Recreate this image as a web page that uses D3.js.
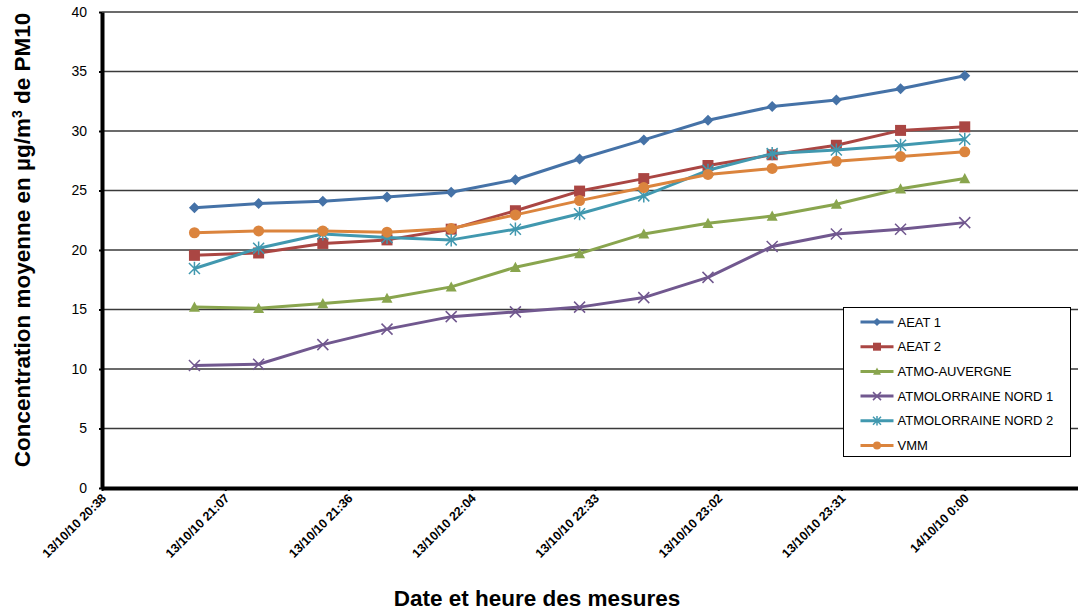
<!DOCTYPE html>
<html>
<head>
<meta charset="utf-8">
<script src="https://cdn.jsdelivr.net/npm/d3@7"></script>
<style>
    body { margin: 0; background: #fff; }
    svg { display: block; font-family: Arial, "Liberation Sans", sans-serif; }
</style>
</head>
<body>
<svg id="chart" width="1078" height="614"></svg>
<script>
// Measurement times (every 15 min)
const times = [
    '2010-10-13 21:00', '2010-10-13 21:15', '2010-10-13 21:30', '2010-10-13 21:45',
    '2010-10-13 22:00', '2010-10-13 22:15', '2010-10-13 22:30', '2010-10-13 22:45',
    '2010-10-13 23:00', '2010-10-13 23:15', '2010-10-13 23:30', '2010-10-13 23:45',
    '2010-10-14 00:00',
];

// Excel-style axis: steps of 0.02 day
const xDomain = ['2010-10-13 20:38:24', '2010-10-14 00:28:48'];
const tickTimes = [
    '2010-10-13 20:38:24', '2010-10-13 21:07:12', '2010-10-13 21:36:00', '2010-10-13 22:04:48',
    '2010-10-13 22:33:36', '2010-10-13 23:02:24', '2010-10-13 23:31:12', '2010-10-14 00:00:00',
];
const tickLabels = [
    '13/10/10 20:38', '13/10/10 21:07', '13/10/10 21:36', '13/10/10 22:04',
    '13/10/10 22:33', '13/10/10 23:02', '13/10/10 23:31', '14/10/10 0:00',
];
const yTicks = [0, 5, 10, 15, 20, 25, 30, 35, 40];

const seriesNames = ['AEAT 1', 'AEAT 2', 'ATMO-AUVERGNE', 'ATMOLORRAINE NORD 1', 'ATMOLORRAINE NORD 2', 'VMM'];
const aeat1   = [23.55, 23.9, 24.1, 24.45, 24.85, 25.9, 27.65, 29.25, 30.9, 32.05, 32.6, 33.55, 34.65];
const aeat2   = [19.55, 19.75, 20.55, 20.85, 21.75, 23.3, 24.95, 26.0, 27.1, 28.0, 28.8, 30.05, 30.35];
const auvergne = [15.2, 15.1, 15.5, 15.95, 16.9, 18.55, 19.7, 21.35, 22.25, 22.85, 23.85, 25.15, 26.0];
const nord1   = [10.3, 10.4, 12.05, 13.35, 14.4, 14.8, 15.2, 16.0, 17.7, 20.3, 21.35, 21.75, 22.3];
const nord2   = [18.45, 20.15, 21.35, 21.05, 20.85, 21.75, 23.05, 24.55, 26.7, 28.1, 28.4, 28.8, 29.3];
const vmm     = [21.45, 21.6, 21.6, 21.5, 21.8, 22.95, 24.15, 25.25, 26.35, 26.85, 27.45, 27.85, 28.25];

const seriesValues = [aeat1, aeat2, auvergne, nord1, nord2, vmm];
const seriesColors = ['#4572A7', '#AA4643', '#89A54E', '#71588F', '#4198AF', '#DB843D'];
const seriesMarkers = ['diamond', 'square', 'triangle', 'times', 'asterisk', 'circle'];

// marker shapes, r = half size
function markerPath(type, r) {
    const p = d3.path();
    if (type === 'diamond') {
        p.moveTo(0, -r); p.lineTo(r, 0); p.lineTo(0, r); p.lineTo(-r, 0); p.closePath();
    } else if (type === 'square') {
        p.rect(-r, -r, 2 * r, 2 * r);
    } else if (type === 'triangle') {
        p.moveTo(0, -r); p.lineTo(r, r * 0.85); p.lineTo(-r, r * 0.85); p.closePath();
    } else if (type === 'circle') {
        p.arc(0, 0, r, 0, 2 * Math.PI);
    } else if (type === 'times') {
        p.moveTo(-r, -r); p.lineTo(r, r); p.moveTo(r, -r); p.lineTo(-r, r);
    } else if (type === 'asterisk') {
        p.moveTo(-r, -r); p.lineTo(r, r); p.moveTo(r, -r); p.lineTo(-r, r);
        p.moveTo(0, -r * 1.2); p.lineTo(0, r * 1.2);
    }
    return p.toString();
}
const isStroked = t => t === 'times' || t === 'asterisk';

function drawMarker(sel, type, color, r) {
    sel.attr('d', markerPath(type, r))
        .attr('fill', isStroked(type) ? 'none' : color)
        .attr('stroke', isStroked(type) ? color : 'none')
        .attr('stroke-width', isStroked(type) ? 1.5 : 0);
}

const svg = d3.select('#chart');
const parse = d3.timeParse('%Y-%m-%d %H:%M');
const parseS = d3.timeParse('%Y-%m-%d %H:%M:%S');

const x = d3.scaleTime().domain(xDomain.map(parseS)).range([102, 1088]);
const y = d3.scaleLinear().domain([0, 40]).range([488, 12]);

// gridlines
svg.append('g')
    .selectAll('line')
    .data(yTicks.filter(d => d > 0))
    .join('line')
    .attr('x1', x.range()[0]).attr('x2', x.range()[1])
    .attr('y1', d => y(d)).attr('y2', d => y(d))
    .attr('stroke', '#3a3a3a').attr('stroke-width', 1.3);

// y axis
const yAxis = svg.append('g')
    .attr('transform', `translate(${x.range()[0]},0)`)
    .call(d3.axisLeft(y).tickValues(yTicks).tickSize(3).tickSizeOuter(0).tickPadding(12));
yAxis.select('.domain').attr('stroke', '#000').attr('stroke-width', 4);
yAxis.selectAll('.tick line').attr('stroke', '#000').attr('stroke-width', 2);
yAxis.selectAll('.tick text')
    .attr('font-size', '14px').attr('fill', '#000')
    .attr('font-family', 'Arial, "Liberation Sans", sans-serif');

// x axis
const xAxis = svg.append('g')
    .attr('transform', `translate(0,${y(0)})`)
    .call(d3.axisBottom(x).tickValues(tickTimes.map(parseS)).tickSize(3).tickSizeOuter(0).tickFormat(''));
xAxis.select('.domain').attr('stroke', '#000').attr('stroke-width', 4);
xAxis.selectAll('.tick line').attr('stroke', '#000').attr('stroke-width', 2);

svg.append('g')
    .selectAll('text')
    .data(tickTimes)
    .join('text')
    .attr('transform', (d, i) => `translate(${x(parseS(d)) + 5},${y(0) + 11}) rotate(-45)`)
    .attr('text-anchor', 'end')
    .attr('font-size', '12.5px')
    .attr('font-weight', 'bold')
    .attr('fill', '#000')
    .text((d, i) => tickLabels[i]);

// series
const line = d3.line()
    .x((d, i) => x(parse(times[i])))
    .y(d => y(d));

seriesValues.forEach((vals, k) => {
    const g = svg.append('g');
    g.append('path')
        .datum(vals)
        .attr('d', line)
        .attr('fill', 'none')
        .attr('stroke', seriesColors[k])
        .attr('stroke-width', 3)
        .attr('stroke-linejoin', 'round');
    g.selectAll('.m')
        .data(vals)
        .join('path')
        .attr('transform', (d, i) => `translate(${x(parse(times[i]))},${y(d)})`)
        .call(drawMarker, seriesMarkers[k], seriesColors[k], seriesMarkers[k] === 'circle' ? 5.5 : 5.5);
});

// axis titles
svg.append('text')
    .attr('transform', 'translate(30,240) rotate(-90)')
    .attr('text-anchor', 'middle')
    .attr('font-size', '22.5px').attr('font-weight', 'bold')
    .html('Concentration moyenne en µg/m<tspan dy="-8" font-size="14px">3</tspan><tspan dy="8"> de PM10</tspan>');

svg.append('text')
    .attr('x', 537).attr('y', 606)
    .attr('text-anchor', 'middle')
    .attr('font-size', '22.5px').attr('font-weight', 'bold')
    .text('Date et heure des mesures');

// legend
const legend = svg.append('g').attr('transform', 'translate(843.5,307.5)');
legend.append('rect')
    .attr('width', 227).attr('height', 149)
    .attr('fill', '#fff').attr('stroke', '#000').attr('stroke-width', 1);

const rows = legend.selectAll('.row')
    .data(seriesNames)
    .join('g')
    .attr('transform', (d, i) => `translate(0,${14.5 + i * 24.7})`);
rows.append('line')
    .attr('x1', 17).attr('x2', 50)
    .attr('stroke', (d, i) => seriesColors[i]).attr('stroke-width', 3);
rows.append('path')
    .attr('transform', 'translate(33.5,0)')
    .each(function (d, i) { d3.select(this).call(drawMarker, seriesMarkers[i], seriesColors[i], 4); });
rows.append('text')
    .attr('x', 54).attr('dy', '0.35em')
    .attr('font-size', '13px').attr('fill', '#000')
    .text(d => d);
</script>
</body>
</html>
